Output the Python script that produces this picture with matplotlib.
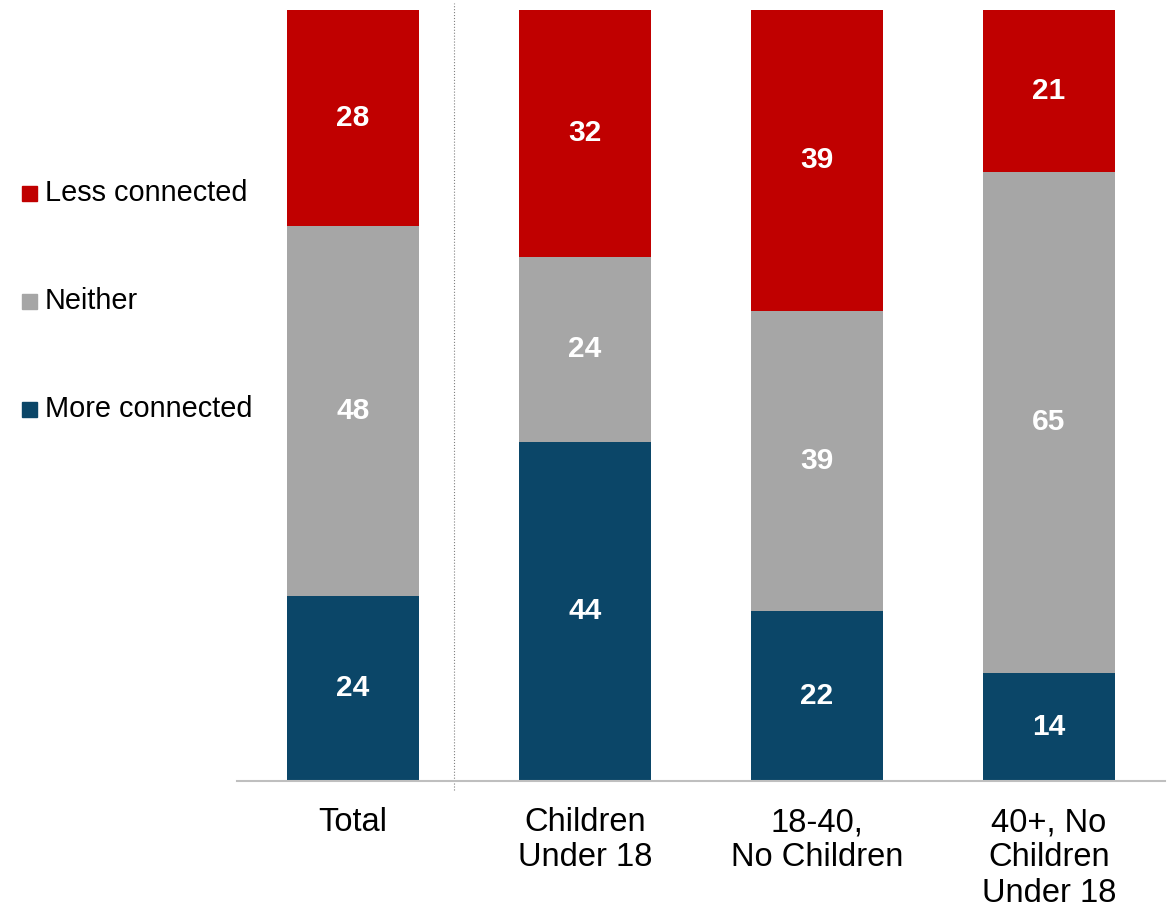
import matplotlib.pyplot as plt
from matplotlib.patches import Rectangle

plt.rcParams['font.family'] = ['Liberation Sans', 'DejaVu Sans']

groups = ['Total', 'Children\nUnder 18', '18-40,\nNo Children', '40+, No\nChildren\nUnder 18']
more = [24, 44, 22, 14]
neither = [48, 24, 39, 65]
less = [28, 32, 39, 21]

series = [('More connected', more, '#0B4668'),
          ('Neither', neither, '#A6A6A6'),
          ('Less connected', less, '#C00000')]

W, H = 1171, 907
fig = plt.figure(figsize=(W / 100, H / 100), dpi=100)
ax = fig.add_axes([237 / W, (H - 781) / H, (1165 - 237) / W, 771 / H])

x = list(range(len(groups)))
bottom = [0] * len(groups)
for name, vals, col in series:
    ax.bar(x, vals, 0.57, bottom=bottom, color=col, edgecolor='none')
    for i, v in enumerate(vals):
        ax.text(i, bottom[i] + v / 2, str(v), ha='center', va='center',
                color='white', fontsize=21.5, fontweight='bold')
    bottom = [b + v for b, v in zip(bottom, vals)]

ax.set_xlim(-0.5, 3.5)
ax.set_ylim(0, 100)
ax.set_xticks(x)
ax.set_xticklabels(groups, fontsize=23.5, linespacing=1.17)
ax.tick_params(axis='x', length=0, pad=19)
ax.set_yticks([])
for s in ['top', 'right', 'left']:
    ax.spines[s].set_visible(False)
ax.spines['bottom'].set_color('#BFBFBF')
ax.spines['bottom'].set_linewidth(1.5)

# dotted separator after Total
ax.plot([0.435, 0.435], [-0.012, 1.009], color='#808080', lw=0.8, ls=':',
        transform=ax.get_xaxis_transform(), clip_on=False)

# legend on the left
for (name, vals, col), yp in zip(series, [409, 301, 193]):
    fig.add_artist(Rectangle((22 / W, (H - yp - 8) / H), 15 / W, 15 / H,
                             color=col, transform=fig.transFigure))
    fig.text(45 / W, (H - yp) / H, name, fontsize=20.8, va='center', ha='left')

fig.savefig('out.png', dpi=100)
